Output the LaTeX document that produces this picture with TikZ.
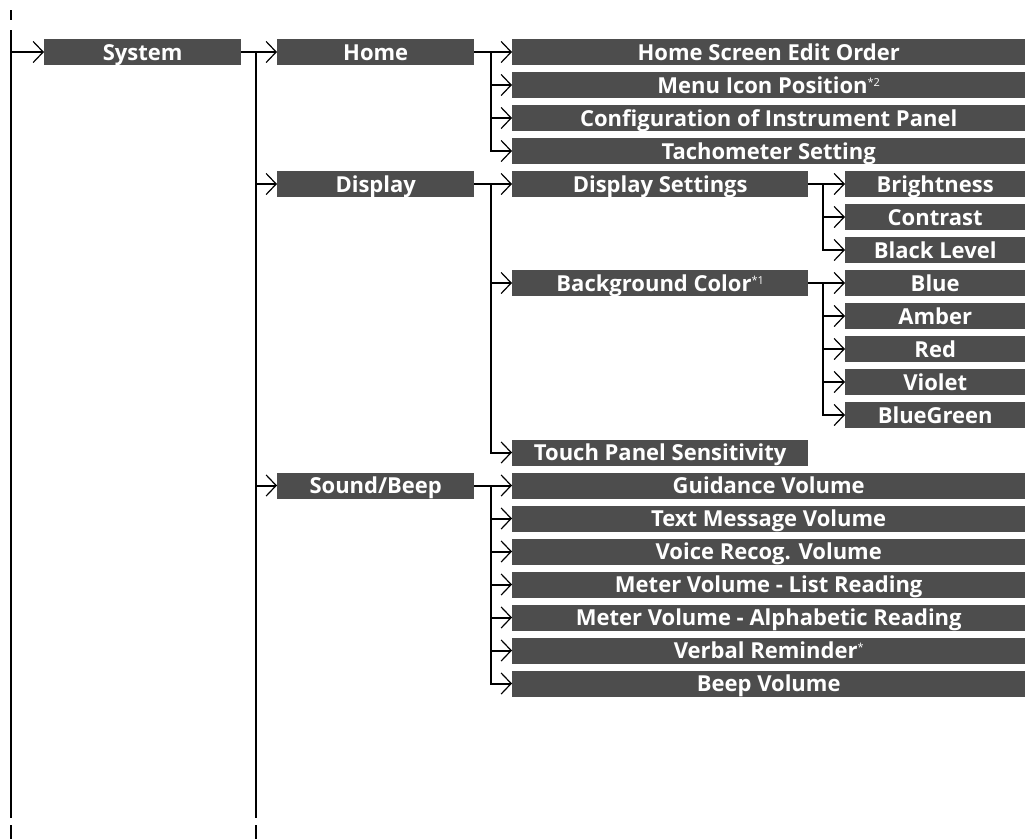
\documentclass[tikz,border=0pt]{standalone}
\usepackage{fontspec}
\setmainfont{Open Sans}
\usetikzlibrary{arrows.meta}
\definecolor{boxgray}{RGB}{77,77,77}
\newcommand\supmark[1]{{\fontsize{11}{11}\selectfont\mdseries\raisebox{7pt}{#1}}}
\begin{document}
\begin{tikzpicture}[x=1pt,y=-1pt,
  box/.style={fill=boxgray, text=white, font=\fontsize{22}{22}\selectfont\bfseries,
    inner sep=0pt, minimum height=26pt, text height=16pt, text depth=0pt, anchor=west},
  wA/.style={minimum width=197pt},
  wB/.style={minimum width=513pt},
  wC/.style={minimum width=296pt},
  wD/.style={minimum width=180pt},
  ln/.style={line width=2pt, black},
  arr/.style={ln, line join=miter, -{Straight Barb[length=10pt,width=21pt,line width=1.2pt]}}]
\useasboundingbox (0,0) rectangle (1026,839);
% level 1
\node[box,wA] (sys) at (44,52) {System};
% level 2
\node[box,wA] (home)  at (277,52)    {Home};
\node[box,wA] (disp)  at (277,184)   {Display};
\node[box,wA] (sound) at (277,485.5) {Sound/Beep};
% level 3
\node[box,wB] (hse)  at (512,52)    {Home Screen Edit Order};
\node[box,wB] (mip)  at (512,85)    {Menu Icon Position\supmark{*2}};
\node[box,wB] (cip)  at (512,118)   {Configuration of Instrument Panel};
\node[box,wB] (tach) at (512,151)   {Tachometer Setting};
\node[box,wC] (dset) at (512,184)   {Display Settings};
\node[box,wC] (bgc)  at (512,283)   {Background Color\supmark{*1}};
\node[box,wC] (tps)  at (512,452.5) {Touch Panel Sensitivity};
\node[box,wB] (gv)   at (512,485.5) {Guidance Volume};
\node[box,wB] (tmv)  at (512,518.5) {Text Message Volume};
\node[box,wB] (vrv)  at (512,551.5) {Voice Recog. Volume};
\node[box,wB] (mvl)  at (512,584.5) {Meter Volume - List Reading};
\node[box,wB] (mva)  at (512,617.5) {Meter Volume - Alphabetic Reading};
\node[box,wB] (vrem) at (512,650.5) {Verbal Reminder\supmark{*}};
\node[box,wB] (beep) at (512,683.5) {Beep Volume};
% level 4
\node[box,wD] (bri)  at (845,184) {Brightness};
\node[box,wD] (con)  at (845,217) {Contrast};
\node[box,wD] (blk)  at (845,250) {Black Level};
\node[box,wD] (blue) at (845,283) {Blue};
\node[box,wD] (amb)  at (845,316) {Amber};
\node[box,wD] (red)  at (845,349) {Red};
\node[box,wD] (vio)  at (845,382) {Violet};
\node[box,wD] (bg)   at (845,415) {BlueGreen};
% guide coordinates
\coordinate (L0) at (11,30);
\coordinate (L0b) at (11,818);
\coordinate (L1b) at (256,818);
\coordinate (L2) at (491,0);
\coordinate (L3) at (823,0);
\coordinate (d0a) at (11,10);  \coordinate (d0b) at (11,20);
\coordinate (d1a) at (11,825); \coordinate (d1b) at (11,839);
\coordinate (d2a) at (256,825); \coordinate (d2b) at (256,839);
% small dashes
\draw[ln] (d0a) -- (d0b);
\draw[ln] (d1a) -- (d1b);
\draw[ln] (d2a) -- (d2b);
% trunk lines
\draw[ln] (L0) -- (L0b);
\draw[arr] (L0 |- sys) -- (sys.west);
\draw[arr] (sys.east) -- (home.west);
\draw[ln] (L1b |- sys) -- (L1b);
\draw[arr] (L1b |- disp) -- (disp.west);
\draw[arr] (L1b |- sound) -- (sound.west);
% home
\draw[arr] (home.east) -- (hse.west);
\draw[arr] (L2 |- hse) -- (L2 |- tach) -- (tach.west);
\draw[arr] (L2 |- mip) -- (mip.west);
\draw[arr] (L2 |- cip) -- (cip.west);
% display
\draw[arr] (disp.east) -- (dset.west);
\draw[arr] (L2 |- disp) -- (L2 |- tps) -- (tps.west);
\draw[arr] (L2 |- bgc) -- (bgc.west);
\draw[arr] (dset.east) -- (bri.west);
\draw[arr] (L3 |- bri) -- (L3 |- blk) -- (blk.west);
\draw[arr] (L3 |- con) -- (con.west);
\draw[arr] (bgc.east) -- (blue.west);
\draw[arr] (L3 |- blue) -- (L3 |- bg) -- (bg.west);
\draw[arr] (L3 |- amb) -- (amb.west);
\draw[arr] (L3 |- red) -- (red.west);
\draw[arr] (L3 |- vio) -- (vio.west);
% sound
\draw[arr] (sound.east) -- (gv.west);
\draw[arr] (L2 |- gv) -- (L2 |- beep) -- (beep.west);
\draw[arr] (L2 |- tmv) -- (tmv.west);
\draw[arr] (L2 |- vrv) -- (vrv.west);
\draw[arr] (L2 |- mvl) -- (mvl.west);
\draw[arr] (L2 |- mva) -- (mva.west);
\draw[arr] (L2 |- vrem) -- (vrem.west);
\end{tikzpicture}
\end{document}
